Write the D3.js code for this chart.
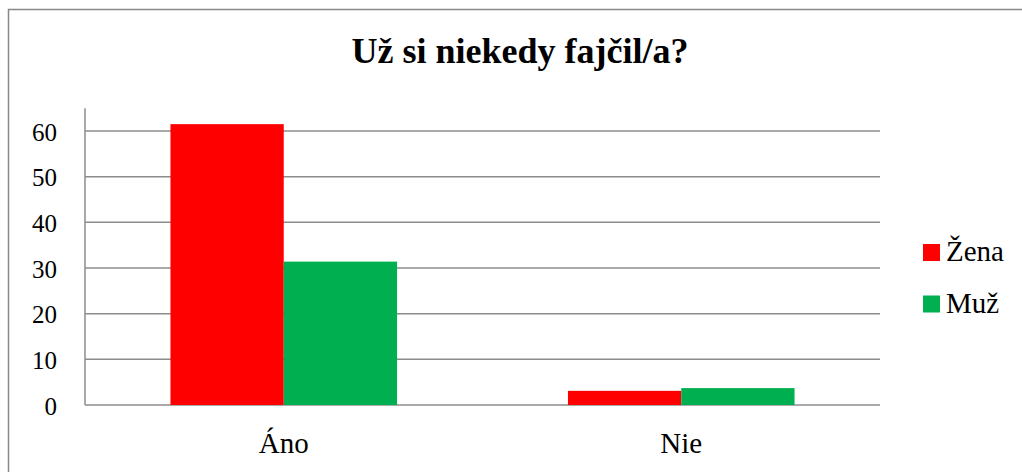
<!DOCTYPE html>
<html>
<head>
<meta charset="utf-8">
<script src="https://cdn.jsdelivr.net/npm/d3@7"></script>
<style>
  body { margin: 0; background: #fff; }
</style>
</head>
<body>
<div id="chart"></div>
<script>
// chart data
const categories = ['Áno', 'Nie'];
const seriesNames = ['Žena', 'Muž'];
const zenaValues = [61.5, 3.1];
const muzValues = [31.4, 3.7];
const yTicks = [0, 10, 20, 30, 40, 50, 60];
const colors = ['#ff0000', '#00b050'];

const W = 1022, H = 472;
const margin = { top: 131, right: 142, bottom: 67, left: 85 };
const serif = '"Liberation Serif", "DejaVu Serif"';

const svg = d3.select('#chart').append('svg')
  .attr('width', W)
  .attr('height', H);

// outer chart border
svg.append('rect')
  .attr('x', 8.5).attr('y', 9.5)
  .attr('width', W + 20).attr('height', H + 20)
  .attr('fill', 'none')
  .attr('stroke', '#888')
  .attr('stroke-width', 1.5);

const plotW = W - margin.left - margin.right;
const plotH = H - margin.top - margin.bottom;

const x0 = d3.scaleBand()
  .domain(categories)
  .range([margin.left, margin.left + plotW])
  .paddingInner(0.43)
  .paddingOuter(0.215);

const x1 = d3.scaleBand()
  .domain(seriesNames)
  .range([0, x0.bandwidth()]);

// 60 sits at the top of the plot
const y = d3.scaleLinear()
  .domain([0, 60])
  .range([margin.top + plotH, margin.top]);

// gridlines
svg.append('g')
  .selectAll('line')
  .data(yTicks)
  .enter().append('line')
  .attr('x1', margin.left).attr('x2', margin.left + plotW)
  .attr('y1', d => y(d)).attr('y2', d => y(d))
  .attr('stroke', '#8c8c8c')
  .attr('stroke-width', 1.5);

// y axis line (goes a little above 60)
svg.append('line')
  .attr('x1', margin.left).attr('x2', margin.left)
  .attr('y1', y(65)).attr('y2', y(0))
  .attr('stroke', '#8c8c8c')
  .attr('stroke-width', 1.5);

const table = categories.map((c, i) => ({ cat: c, vals: [zenaValues[i], muzValues[i]] }));

svg.append('g')
  .selectAll('g')
  .data(table)
  .enter().append('g')
  .attr('transform', d => 'translate(' + x0(d.cat) + ',0)')
  .selectAll('rect')
  .data(d => d.vals.map((v, j) => ({ name: seriesNames[j], value: v, color: colors[j] })))
  .enter().append('rect')
  .attr('x', d => x1(d.name))
  .attr('width', x1.bandwidth())
  .attr('y', d => y(d.value))
  .attr('height', d => y(0) - y(d.value))
  .attr('fill', d => d.color);

// y tick labels
const yAxis = svg.append('g')
  .attr('transform', 'translate(' + (margin.left - 28) + ',0)')
  .call(d3.axisLeft(y).tickValues(yTicks).tickSize(0).tickPadding(0));
yAxis.select('.domain').remove();
yAxis.selectAll('text')
  .style('font-family', serif)
  .style('font-size', '25px')
  .attr('fill', '#000')
  .attr('dy', 9);

// x category labels
const xAxis = svg.append('g')
  .attr('transform', 'translate(0,' + y(0) + ')')
  .call(d3.axisBottom(x0).tickSize(0).tickPadding(0));
xAxis.select('.domain').remove();
xAxis.selectAll('text')
  .style('font-family', serif)
  .style('font-size', '29px')
  .attr('fill', '#000')
  .attr('y', 48)
  .attr('dy', 0);

// title
svg.append('text')
  .attr('x', 520)
  .attr('y', 63)
  .attr('text-anchor', 'middle')
  .style('font-family', serif)
  .style('font-size', '36px')
  .style('font-weight', 'bold')
  .text('Už si niekedy fajčil/a?');

// legend
const legend = svg.append('g')
  .selectAll('g')
  .data(seriesNames)
  .enter().append('g')
  .attr('transform', (d, i) => 'translate(923,' + (244 + i * 51.5) + ')');
legend.append('rect')
  .attr('width', 17).attr('height', 17)
  .attr('fill', (d, i) => colors[i]);
legend.append('text')
  .attr('x', 23)
  .attr('y', 17)
  .style('font-family', serif)
  .style('font-size', '29px')
  .text(d => d);
</script>
</body>
</html>
